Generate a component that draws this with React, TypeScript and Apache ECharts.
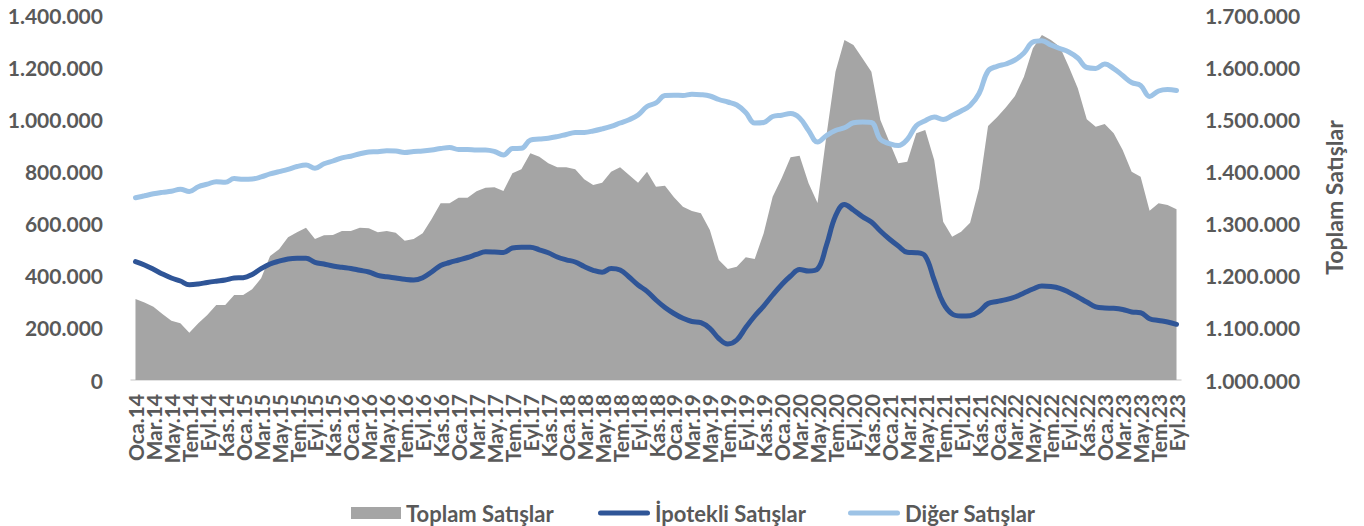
import React, { useEffect, useRef } from "react";
import * as echarts from "echarts";

const monthNames = ["Oca", "Şub", "Mar", "Nis", "May", "Haz", "Tem", "Ağu", "Eyl", "Eki", "Kas", "Ara"];
const years = ["14", "15", "16", "17", "18", "19", "20", "21", "22", "23"];
const categories: string[] = [];
years.forEach((y) => {
  monthNames.forEach((m, mi) => {
    if (y === "23" && mi > 8) return;
    categories.push(`${m}.${y}`);
  });
});

const toplam = [
  1155300, 1148600, 1140600, 1126600, 1113700, 1108700, 1090700, 1108700, 1124700, 1143800,
  1143800, 1163000, 1163000, 1173900, 1195000, 1237800, 1250700, 1273700, 1283300, 1292100,
  1270400, 1277500, 1278100, 1285800, 1285800, 1292100, 1290900, 1283300, 1285800, 1282500,
  1267100, 1270400, 1281300, 1308800, 1338900, 1338900, 1349600, 1349600, 1362100, 1368600,
  1369600, 1362500, 1396400, 1404100, 1434800, 1428200, 1415600, 1407900, 1407900, 1404100,
  1384900, 1374000, 1378400, 1399500, 1407900, 1393100, 1378400, 1399500, 1370700, 1372600,
  1350400, 1332400, 1324100, 1319700, 1287700, 1230100, 1212900, 1217300, 1235300, 1232100,
  1281300, 1351500, 1386800, 1427100, 1430200, 1377200, 1339500, 1469900, 1591300, 1652100,
  1642500, 1617000, 1591300, 1498600, 1457000, 1415600, 1418700, 1473100, 1479500, 1421900,
  1303600, 1274800, 1284400, 1301700, 1367600, 1487100, 1503800, 1523000, 1544700, 1581700,
  1636100, 1661600, 1652100, 1639200, 1600900, 1559400, 1500000, 1485800, 1491000, 1473100,
  1441100, 1399500, 1389900, 1324700, 1338900, 1335600, 1327400,
];

const ipotekli = [
  453800, 441100, 424600, 406600, 391200, 379700, 365500, 368200, 374000, 379000,
  383600, 391200, 392400, 404700, 426900, 444900, 455700, 464100, 466800, 466800,
  451500, 444900, 437300, 432300, 427700, 420800, 414200, 401600, 395800, 391200,
  386200, 383600, 392400, 414200, 439200, 450700, 460300, 469900, 481400, 492100,
  491000, 489000, 506300, 509000, 509000, 499400, 487900, 471800, 461000, 452600,
  435300, 420800, 413500, 427700, 421900, 395100, 364400, 340200, 306800, 278100,
  255100, 236700, 224400, 219800, 198300, 159200, 138100, 153400, 201400, 245500,
  283800, 326000, 365500, 398900, 423800, 418100, 425800, 517800, 629000, 673100,
  652100, 626400, 606000, 571500, 540800, 514000, 489800, 488300, 475600, 383600,
  295300, 253100, 245500, 246600, 262700, 293400, 301100, 308000, 318400, 333700,
  349000, 360500, 358600, 351700, 336800, 318400, 299200, 280800, 276200, 275000,
  270400, 260800, 258100, 234700, 228200, 222500, 213600,
];

const diger = [
  699200, 706500, 714200, 719600, 723800, 731800, 723000, 741400, 751000, 760600,
  758300, 772500, 769800, 771000, 779000, 790500, 799300, 808200, 818900, 824700,
  812000, 829300, 840000, 852300, 858400, 867600, 874500, 875700, 879500, 878400,
  872600, 876400, 878400, 882200, 887900, 891800, 884100, 884100, 882200, 882200,
  876400, 863000, 887900, 888700, 920500, 924400, 927400, 933600, 941600, 948900,
  949700, 955100, 963100, 972700, 985700, 998400, 1016400, 1049000, 1062500, 1091200,
  1092400, 1091200, 1095800, 1094300, 1089300, 1075900, 1066300, 1054800, 1026000, 985700,
  987700, 1010700, 1015700, 1021800, 1004900, 957000, 912900, 937800, 957000, 967300,
  986500, 989600, 987700, 922500, 907100, 899400, 922500, 975000, 994600, 1008800,
  999200, 1014500, 1031800, 1052900, 1098900, 1185200, 1203200, 1212100, 1227400, 1254200,
  1296400, 1301400, 1284900, 1271500, 1258100, 1235100, 1198600, 1195200, 1212100, 1194400,
  1167900, 1141100, 1129600, 1087400, 1108500, 1114200, 1110400,
];

const seriesNames = ["Toplam Satışlar", "İpotekli Satışlar", "Diğer Satışlar"];
const rightAxisName = "Toplam Satışlar";

const fmt = (v: number) => String(Math.round(v)).replace(/\B(?=(\d{3})+(?!\d))/g, ".");

const FONT = "Lato";
const TXT = "#595959";
const CAPSULE = "path://M2.5,0 H49.5 A2.5,2.5 0 0 1 49.5,5 H2.5 A2.5,2.5 0 0 1 2.5,0 Z";

export default function App() {
  const ref = useRef<HTMLDivElement>(null);
  useEffect(() => {
    if (!ref.current) return;
    const chart = echarts.init(ref.current, null, { renderer: "svg" });
    const legendText = { fontFamily: FONT, fontWeight: "bold" as const, fontSize: 22, color: TXT };
    const labelStyle = { fontFamily: FONT, fontWeight: "bold" as const, fontSize: 21, color: TXT };
    chart.setOption({
      animation: false,
      textStyle: { fontFamily: FONT },
      grid: { left: 131, right: 183, top: 15, bottom: 146, containLabel: false },
      legend: [
        {
          left: 346, top: 497, itemWidth: 50, itemHeight: 12, itemGap: 0,
          data: [{ name: seriesNames[0], icon: "rect" }], textStyle: legendText,
        },
        {
          left: 593, top: 497, itemWidth: 52, itemHeight: 5, itemGap: 0,
          data: [{ name: seriesNames[1], icon: CAPSULE }], textStyle: legendText,
        },
        {
          left: 843, top: 497, itemWidth: 52, itemHeight: 5, itemGap: 0,
          data: [{ name: seriesNames[2], icon: CAPSULE }], textStyle: legendText,
        },
      ],
      xAxis: {
        type: "category",
        data: categories,
        boundaryGap: true,
        axisLine: { lineStyle: { color: "#D9D9D9", width: 1.5 } },
        axisTick: { interval: 1, length: 5, lineStyle: { color: "#D9D9D9", width: 1.5 } },
        axisLabel: {
          ...labelStyle,
          interval: 0,
          rotate: 90,
          margin: 14,
          formatter: (v: string, i: number) => (i % 2 === 0 ? v : ""),
        },
        splitLine: { show: false },
      },
      yAxis: [
        {
          type: "value",
          position: "left",
          min: 0,
          max: 1400000,
          interval: 200000,
          axisLine: { show: false },
          axisTick: { show: false },
          splitLine: { show: false },
          axisLabel: { ...labelStyle, margin: 28, formatter: fmt },
        },
        {
          type: "value",
          position: "right",
          min: 1000000,
          max: 1700000,
          interval: 100000,
          name: rightAxisName,
          nameLocation: "middle",
          nameRotate: 90,
          nameGap: 141,
          nameTextStyle: { ...labelStyle, fontSize: 23 },
          axisLine: { show: false },
          axisTick: { show: false },
          splitLine: { show: false },
          axisLabel: { ...labelStyle, margin: 24, formatter: fmt },
        },
      ],
      series: [
        {
          name: seriesNames[0],
          type: "line",
          yAxisIndex: 1,
          data: toplam,
          symbol: "none",
          lineStyle: { width: 0, color: "#A5A5A5" },
          itemStyle: { color: "#A5A5A5" },
          areaStyle: { color: "#A5A5A5", opacity: 1, origin: "start" },
          z: 1,
        },
        {
          name: seriesNames[1],
          type: "line",
          yAxisIndex: 0,
          data: ipotekli,
          symbol: "none",
          smooth: 0.4,
          lineStyle: { width: 5, color: "#2F5597", cap: "round" },
          itemStyle: { color: "#2F5597" },
          z: 3,
        },
        {
          name: seriesNames[2],
          type: "line",
          yAxisIndex: 0,
          data: diger,
          symbol: "none",
          smooth: 0.4,
          lineStyle: { width: 5, color: "#9DC3E6", cap: "round" },
          itemStyle: { color: "#9DC3E6" },
          z: 3,
        },
      ],
    });
    return () => chart.dispose();
  }, []);
  return (
    <div
      ref={ref}
      style={{ position: "fixed", left: 0, top: 0, width: 1364, height: 526, background: "#fff" }}
    />
  );
}
